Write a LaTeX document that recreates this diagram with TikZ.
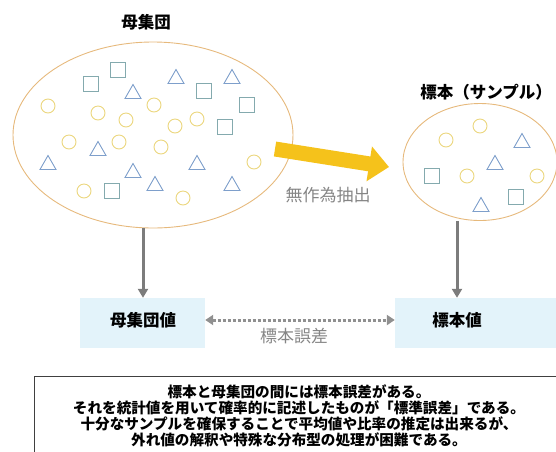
\documentclass[tikz,border=0pt]{standalone}
\usepackage{fontspec}
\setmainfont{Noto Sans CJK JP}
\usetikzlibrary{arrows.meta,shapes.geometric}
\definecolor{ellc}{HTML}{E6B97C}
\definecolor{circc}{HTML}{EBD67E}
\definecolor{tric}{HTML}{7E9FCB}
\definecolor{sqc}{HTML}{84AAAE}
\definecolor{yarrow}{HTML}{F5C21B}
\definecolor{boxc}{HTML}{E3F3FA}
\definecolor{garrow}{HTML}{7C7C7C}
\definecolor{glabel}{HTML}{858585}
\newcommand\mycirc[2]{\draw[circc,line width=0.9pt] (#1,#2) circle (7pt);}
\newcommand\mysq[2]{\draw[sqc,line width=0.9pt] (#1-7.5,#2-7.5) rectangle (#1+7.5,#2+7.5);}
\newcommand\mytri[2]{\draw[tric,line width=0.9pt] (#1,#2-7.5) -- (#1+8,#2+6.5) -- (#1-8,#2+6.5) -- cycle;}
\tikzset{
  title/.style={font=\bfseries\fontsize{16.5}{19}\selectfont},
  valbox/.style={fill=boxc,draw=none},
  glab/.style={text=glabel,font=\fontsize{17}{20}\selectfont},
  downarr/.style={garrow,line width=3pt,-{Triangle[length=9pt,width=10pt]}},
}
\begin{document}
\begin{tikzpicture}[x=1pt,y=-1pt]
\useasboundingbox (0,0) rectangle (556,451);
\clip (0,0) rectangle (556,451);
% titles
\node[title] (t1) at (146,22) {母集団};
\node[title] (t2) at (486,92) {標本（サンプル）};
% ellipses
\node[ellipse,draw=ellc,line width=0.9pt,minimum width=280pt,minimum height=186pt,inner sep=0] (pop) at (153,135) {};
\node[ellipse,draw=ellc,line width=0.9pt,minimum width=154pt,minimum height=117pt,inner sep=0] (smp) at (480,162) {};
% population shapes
\mysq{118}{70}\mysq{91}{84}\mysq{204}{91}\mysq{247}{105}\mysq{225}{127}\mysq{112}{191}
\mytri{176}{77}\mytri{232}{77}\mytri{133}{92}\mytri{98}{149}\mytri{48}{163}
\mytri{133}{171}\mytri{197}{163}\mytri{155}{184}\mytri{232}{184}
\mycirc{48}{106}\mycirc{98}{113}\mycirc{126}{120}\mycirc{154}{105}\mycirc{197}{119}
\mycirc{175}{126}\mycirc{69}{142}\mycirc{119}{142}\mycirc{161}{147}\mycirc{254}{162}
\mycirc{84}{191}\mycirc{183}{198}
% sample shapes
\mycirc{480}{126}\mycirc{446}{140}\mycirc{467}{176}\mycirc{537}{176}
\mytri{522}{141}\mytri{495}{163}\mytri{481}{205}
\mysq{432}{176}\mysq{516}{197}
% yellow arrow
\coordinate (ya) at (275,149);
\coordinate (yb) at (389,167);
\draw[yarrow,line width=15pt,-{Triangle[length=20pt,width=34pt]}] (ya) -- (yb);
\node[glab] (mk) at (328,195) {無作為抽出};
% value boxes
\node[valbox,minimum width=125pt,minimum height=50pt,inner sep=0] (pv) at (142.5,323) {};
\node[title] (pvt) at (143,320) {母集団値};
\node[valbox,minimum width=161pt,minimum height=50pt,inner sep=0] (sv) at (475.5,323) {};
\node[title] (svt) at (457,320) {標本値};
% down arrows
\draw[downarr] (pop.south -| pvt) -- (pv.north -| pvt);
\draw[downarr] (smp.south -| svt) -- (sv.north -| svt);
% error arrow
\draw[garrow!85,line width=3pt,dash pattern=on 3pt off 2pt,{Triangle[length=8pt,width=10pt]}-{Triangle[length=8pt,width=10pt]}] (pv.east |- pvt) -- (sv.west |- pvt);
\node[glab] (err) at (294,336) {標本誤差};
% bottom note
\draw[black!75,line width=0.9pt] (34,376) rectangle (600,480);
\node[font=\bfseries\fontsize{14.6}{16.2}\selectfont,align=center] (note) at (299,416) {標本と母集団の間には標本誤差がある。\\それを統計値を用いて確率的に記述したものが「標準誤差」である。\\十分なサンプルを確保することで平均値や比率の推定は出来るが、\\外れ値の解釈や特殊な分布型の処理が困難である。};
\end{tikzpicture}
\end{document}
